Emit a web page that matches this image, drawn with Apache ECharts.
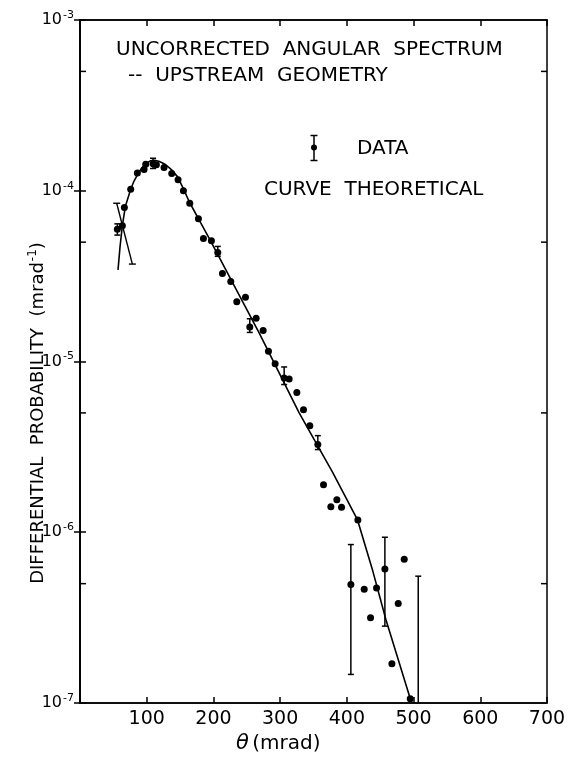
<!DOCTYPE html>
<html>
<head>
<meta charset="utf-8">
<script src="https://cdn.jsdelivr.net/npm/echarts@6/dist/echarts.min.js"></script>
<style>
html,body{margin:0;padding:0;background:#fff;}
#chart{width:572px;height:763px;}
</style>
</head>
<body>
<div id="chart"></div>
<script>
// ---- data ----
const pointTheta = [56, 63.5, 66.5, 76, 86, 96, 98.5, 109.5, 114.5, 126, 137.5, 147, 155, 164.5, 177.5, 185, 197, 206.5, 213.5, 226, 235, 248, 254.5, 264, 274.5, 282.5, 292.5, 306, 313.5, 325, 335, 344.5, 356.5, 365, 376, 385, 392, 406, 416.5, 426, 435.5, 444.5, 457, 467.5, 477, 486, 495];
const pointProb = [5.96e-5, 6.24e-5, 7.98e-5, 1.02e-4, 1.27e-4, 1.33e-4, 1.43e-4, 1.44e-4, 1.42e-4, 1.37e-4, 1.26e-4, 1.16e-4, 1.0e-4, 8.45e-5, 6.85e-5, 5.25e-5, 5.09e-5, 4.35e-5, 3.28e-5, 2.94e-5, 2.24e-5, 2.38e-5, 1.59e-5, 1.79e-5, 1.52e-5, 1.15e-5, 9.7e-6, 8.0e-6, 7.9e-6, 6.59e-6, 5.22e-6, 4.2e-6, 3.26e-6, 1.9e-6, 1.41e-6, 1.55e-6, 1.40e-6, 4.94e-7, 1.18e-6, 4.63e-7, 3.16e-7, 4.71e-7, 6.1e-7, 1.7e-7, 3.83e-7, 6.95e-7, 1.06e-7];

const errTheta = [56, 109.5, 206.5, 254.5, 306, 356.5, 406, 457, 507];
const errLow   = [5.5e-5, 1.35e-4, 4.13e-5, 1.48e-5, 7.33e-6, 3.05e-6, 1.47e-7, 2.82e-7, 9e-8];
const errHigh  = [6.4e-5, 1.55e-4, 4.72e-5, 1.78e-5, 9.29e-6, 3.68e-6, 8.47e-7, 9.35e-7, 5.53e-7];

// slanted capped bar (upstream geometry)
const slantTheta = [55, 78.5];
const slantProb = [8.45e-5, 3.72e-5];

// theoretical curve
const curveTheta = [57, 60, 63.5, 68, 76, 81, 86, 91, 96, 101, 106, 112, 118, 123, 128.5, 137, 146, 155, 163.5, 178.5, 193.5, 268.5, 328.5, 378.5, 416, 438, 458.5, 496];
const curveProb = [3.44e-5, 4.7e-5, 6.24e-5, 8.1e-5, 1.02e-4, 1.14e-4, 1.24e-4, 1.33e-4, 1.40e-4, 1.46e-4, 1.50e-4, 1.51e-4, 1.49e-4, 1.46e-4, 1.42e-4, 1.33e-4, 1.21e-4, 1.03e-4, 8.65e-5, 6.76e-5, 5.28e-5, 1.47e-5, 5.0e-6, 2.25e-6, 1.18e-6, 6.1e-7, 3.08e-7, 1.03e-7];

// axis ticks
const xTickLabels = ['100', '200', '300', '400', '500', '600', '700'];
const minorTickValues = [5e-4, 5e-5, 5e-6, 5e-7];

const FONT = 'DejaVu Sans';
const chart = echarts.init(document.getElementById('chart'), null, {renderer: 'canvas'});

const pts = pointTheta.map((t, i) => [t, pointProb[i]]);
const errs = errTheta.map((t, i) => [t, errLow[i], errHigh[i]]);
const curve = curveTheta.map((t, i) => [t, curveProb[i]]);

function supLabel(v) {
  const e = Math.round(Math.log10(v));
  return '{b|10}{s|' + e + '}';
}

const option = {
  animation: false,
  backgroundColor: '#fff',
  grid: {left: 80, right: 25, top: 20, bottom: 60, show: true, borderColor: '#000', borderWidth: 1.5, backgroundColor: 'transparent'},
  xAxis: [{
    type: 'value', min: 0, max: 700, interval: 100, position: 'bottom',
    axisLine: {show: true, lineStyle: {color: '#000', width: 1.5}},
    axisTick: {show: true, inside: true, length: 6, lineStyle: {color: '#000', width: 1.5}},
    splitLine: {show: false},
    axisLabel: {
      color: '#000', fontFamily: FONT, fontSize: 19, margin: 7,
      formatter: v => { const s = String(v); return xTickLabels.indexOf(s) >= 0 ? s : ''; }
    }
  }, {
    type: 'value', min: 0, max: 700, interval: 100, position: 'top',
    axisLine: {show: true, lineStyle: {color: '#000', width: 1.5}},
    axisTick: {show: true, inside: true, length: 6, lineStyle: {color: '#000', width: 1.5}},
    splitLine: {show: false}, axisLabel: {show: false}
  }],
  yAxis: [{
    type: 'log', logBase: 10, min: 1e-7, max: 1e-3, position: 'left',
    axisLine: {show: true, lineStyle: {color: '#000', width: 1.5}},
    axisTick: {show: true, inside: true, length: 6, lineStyle: {color: '#000', width: 1.5}},
    splitLine: {show: false}, minorTick: {show: false},
    axisLabel: {
      color: '#000', fontFamily: FONT, margin: 6,
      formatter: supLabel,
      rich: {
        b: {fontFamily: FONT, fontSize: 16, color: '#000'},
        s: {fontFamily: FONT, fontSize: 11, color: '#000', verticalAlign: 'top', padding: [0, 0, 10, 1]}
      }
    }
  }, {
    type: 'log', logBase: 10, min: 1e-7, max: 1e-3, position: 'right',
    axisLine: {show: true, lineStyle: {color: '#000', width: 1.5}},
    axisTick: {show: true, inside: true, length: 6, lineStyle: {color: '#000', width: 1.5}},
    splitLine: {show: false}, axisLabel: {show: false}
  }],
  series: [
    {
      type: 'line', data: curve, smooth: false, symbol: 'none',
      lineStyle: {color: '#000', width: 1.6}, z: 3
    },
    {
      type: 'scatter', data: pts, symbol: 'circle', symbolSize: 7,
      itemStyle: {color: '#000', opacity: 1}, z: 4
    },
    {
      type: 'custom', data: errs, clip: true, z: 4,
      renderItem: function (params, api) {
        const x = api.value(0);
        const a = api.coord([x, api.value(1)]);
        const b = api.coord([x, api.value(2)]);
        const w = 3;
        const st = {stroke: '#000', lineWidth: 1.5};
        return {type: 'group', children: [
          {type: 'line', shape: {x1: a[0], y1: a[1], x2: b[0], y2: b[1]}, style: st},
          {type: 'line', shape: {x1: a[0] - w, y1: a[1], x2: a[0] + w, y2: a[1]}, style: st},
          {type: 'line', shape: {x1: b[0] - w, y1: b[1], x2: b[0] + w, y2: b[1]}, style: st}
        ]};
      }
    },
    {
      type: 'custom', data: [[slantTheta[0], slantProb[0], slantTheta[1], slantProb[1]]], z: 3,
      renderItem: function (params, api) {
        const a = api.coord([api.value(0), api.value(1)]);
        const b = api.coord([api.value(2), api.value(3)]);
        const w = 3.5;
        const st = {stroke: '#000', lineWidth: 1.4};
        return {type: 'group', children: [
          {type: 'line', shape: {x1: a[0], y1: a[1], x2: b[0], y2: b[1]}, style: st},
          {type: 'line', shape: {x1: a[0] - w, y1: a[1], x2: a[0] + w, y2: a[1]}, style: st},
          {type: 'line', shape: {x1: b[0] - w, y1: b[1], x2: b[0] + w, y2: b[1]}, style: st}
        ]};
      }
    },
    {
      type: 'custom', data: minorTickValues.map(v => [v]), clip: false, z: 2,
      renderItem: function (params, api) {
        const v = api.value(0);
        const l = api.coord([0, v]);
        const r = api.coord([700, v]);
        const st = {stroke: '#000', lineWidth: 1.5};
        return {type: 'group', children: [
          {type: 'line', shape: {x1: l[0], y1: l[1], x2: l[0] + 6, y2: l[1]}, style: st},
          {type: 'line', shape: {x1: r[0] - 6, y1: r[1], x2: r[0], y2: r[1]}, style: st}
        ]};
      },
      encode: {y: 0}
    }
  ],
  graphic: [
    {type: 'text', left: 116, top: 40, style: {text: 'UNCORRECTED  ANGULAR  SPECTRUM', font: '20px "DejaVu Sans"', fill: '#000'}},
    {type: 'text', left: 128, top: 66, style: {text: '--  UPSTREAM  GEOMETRY', font: '20px "DejaVu Sans"', fill: '#000'}},
    {type: 'text', left: 357, top: 139, style: {text: 'DATA', font: '20px "DejaVu Sans"', fill: '#000'}},
    {type: 'text', left: 264, top: 180, style: {text: 'CURVE  THEORETICAL', font: '20px "DejaVu Sans"', fill: '#000'}},
    {type: 'group', left: 308, top: 133, children: [
      {type: 'line', shape: {x1: 3.5, y1: 0, x2: 3.5, y2: 25}, style: {stroke: '#000', lineWidth: 1.5}},
      {type: 'line', shape: {x1: 0, y1: 0, x2: 7, y2: 0}, style: {stroke: '#000', lineWidth: 1.5}},
      {type: 'line', shape: {x1: 0, y1: 25, x2: 7, y2: 25}, style: {stroke: '#000', lineWidth: 1.5}},
      {type: 'circle', shape: {cx: 3.5, cy: 12, r: 3}, style: {fill: '#000'}}
    ]},
    {type: 'text', x: 38, y: 413, rotation: Math.PI / 2, style: {
      text: 'DIFFERENTIAL  PROBABILITY  {p|(mrad}{s|-1}{p|)}',
      font: '18px "DejaVu Sans"', fill: '#000', align: 'center', verticalAlign: 'middle',
      rich: {p: {fontFamily: FONT, fontSize: 18, fill: '#000'}, s: {fontFamily: FONT, fontSize: 12, fill: '#000', padding: [0, 0, 10, 1]}}
    }},
    {type: 'text', left: 236, top: 733, style: {
      text: '{t|θ} {p|(mrad)}',
      rich: {t: {fontFamily: FONT, fontSize: 21, fontStyle: 'italic', fill: '#000'}, p: {fontFamily: FONT, fontSize: 20, fill: '#000'}}
    }}
  ]
};
chart.setOption(option);
</script>
</body>
</html>
